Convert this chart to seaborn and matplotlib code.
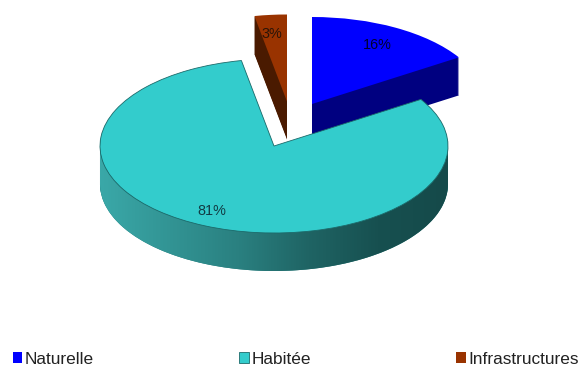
import numpy as np
import matplotlib
matplotlib.use("Agg")
import matplotlib.pyplot as plt
import seaborn as sns
from matplotlib.colors import LinearSegmentedColormap
from matplotlib.path import Path
from matplotlib.patches import PathPatch

categories = ["Naturelle", "Habitée", "Infrastructures"]
shares = [16, 81, 3]
top_colors = ["#0000ff", "#33cccc", "#993300"]
wall_colors = ["#000080", "#1f7a7a", "#4a1a00"]
label_colors = ["#000030", "#123c44", "#2a1408"]
label_dist = [0.78, 0.82, 0.78]
label_shift_px = [0, -6, -2]
wall_gradient = ["#3aa8a8", "#329494", "#2a8080", "#1f6464", "#175050", "#154a4a"]

W, H = 579, 366
RX, RY = 174.0, 87.0
CX, CY = 274.0, 146.0
DEPTH_PX = 38.0
# slice apex in pixels of the picture
apex = {"Naturelle": (312, 104), "Habitée": (274, 146), "Infrastructures": (287, 101.5)}
draw_order = ["Infrastructures", "Naturelle", "Habitée"]

sns.set_theme(style="white")
plt.rcParams["font.family"] = ["Liberation Sans", "DejaVu Sans"]

fig = plt.figure(figsize=(W / 100, H / 100), dpi=100, facecolor="white")
ax = fig.add_axes([0, 0, 1, 1])


def pie_at(name, depth_units, color, edge=None, lw=0, label=False, z=1):
    i = categories.index(name)
    cx = (apex[name][0] - CX) / RX
    cy = (CY - apex[name][1]) / RY - depth_units
    cols = ["none"] * len(shares)
    cols[i] = color
    res = ax.pie(
        shares, startangle=90, counterclock=False, center=(cx, cy), radius=1,
        colors=cols, autopct="%.0f%%" if label else None, pctdistance=label_dist[i],
        wedgeprops=dict(linewidth=lw, edgecolor=edge if edge else "none", zorder=z),
        textprops=dict(color=label_colors[i], fontsize=10.4, zorder=50),
    )
    for j, w in enumerate(res[0]):
        if j != i:
            w.set_visible(False)
    if label:
        for j, t in enumerate(res[2]):
            if j != i:
                t.set_visible(False)
            else:
                t.set_x(t.get_position()[0] + label_shift_px[i] / RX)
    return res[0][i]


handles = {}
depth = DEPTH_PX / RY
z = 1
for name in draw_order:
    i = categories.index(name)
    for d in np.linspace(depth, 0, 39)[:-1]:
        pie_at(name, d, wall_colors[i], z=z)
    if name == "Habitée":
        # shaded outer wall of the big slice
        th = np.linspace(np.pi, 2 * np.pi, 200)
        verts = np.r_[np.c_[np.cos(th), np.sin(th) - depth],
                      np.c_[np.cos(th[::-1]), np.sin(th[::-1])]]
        cmap = LinearSegmentedColormap.from_list("wall", wall_gradient)
        im = ax.imshow(np.linspace(0, 1, 256)[None, :], cmap=cmap, aspect="auto",
                       extent=(-1, 1, -1 - depth, 0), zorder=z + 0.5)
        clip = PathPatch(Path(verts), transform=ax.transData, fc="none", ec="none")
        im.set_clip_path(clip)
    handles[name] = pie_at(name, 0, top_colors[i],
                           edge="#1c6a6a" if name == "Habitée" else None,
                           lw=0.6 if name == "Habitée" else 0,
                           label=True, z=z + 1)
    z += 2

ax.set_aspect("auto")
ax.set_xlim(-CX / RX, (W - CX) / RX)
ax.set_ylim((CY - H) / RY, CY / RY)
ax.axis("off")

leg = fig.legend(
    [handles[c] for c in categories], categories, ncol=3, frameon=False,
    loc="lower left", bbox_to_anchor=(12.5 / W, -0.5 / H), fontsize=12.4,
    labelcolor="#222222", handlelength=0.55, handleheight=0.55, handletextpad=0.15,
    columnspacing=8.45, borderpad=0, borderaxespad=0,
)
fig.savefig("out.png", dpi=100)
